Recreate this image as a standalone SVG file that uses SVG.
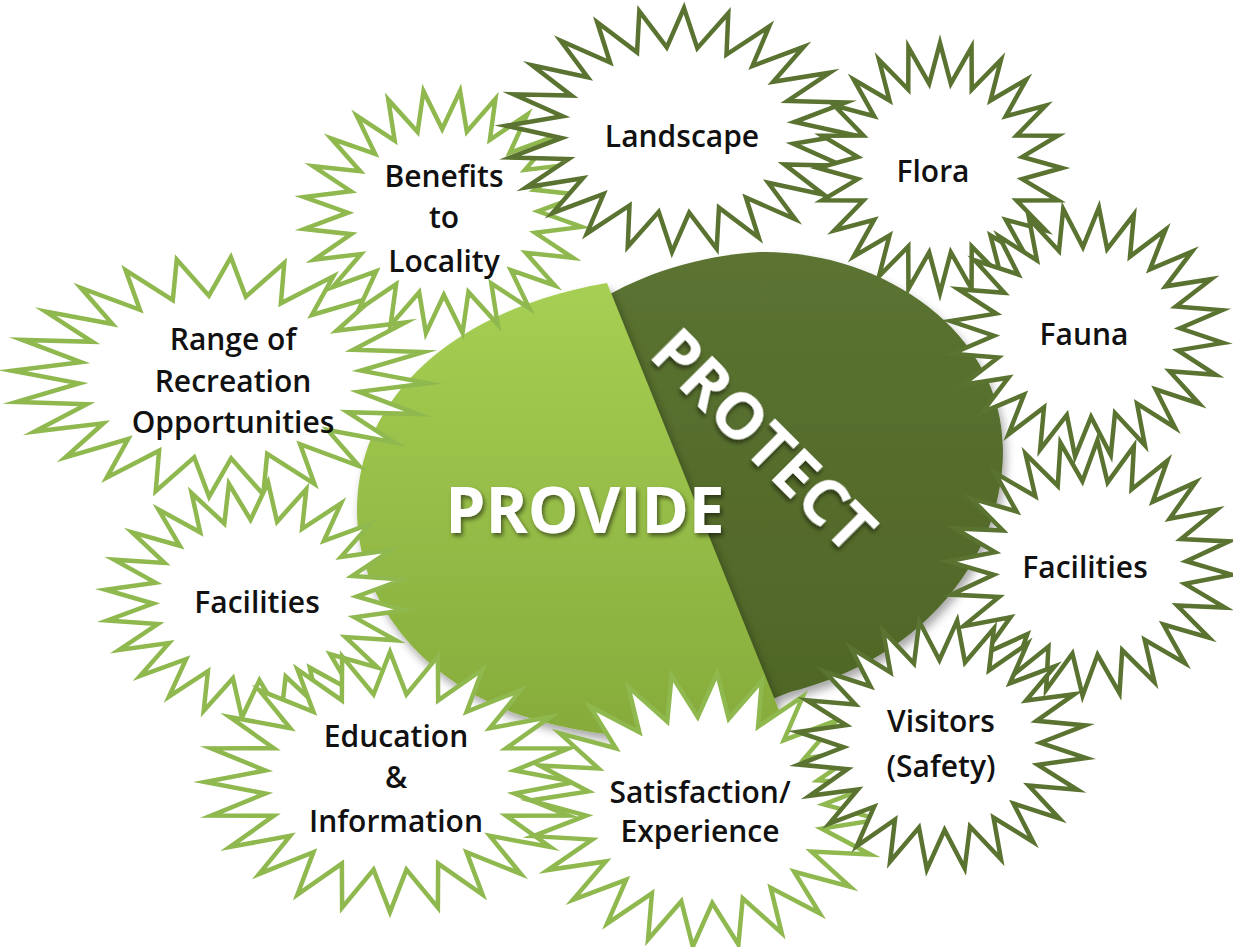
<svg xmlns="http://www.w3.org/2000/svg" xmlns:xlink="http://www.w3.org/1999/xlink" width="1233" height="947" viewBox="0 0 1233 947">
<style>
.lt{fill:#fff;stroke:#8fb84f;stroke-width:4.5;stroke-miterlimit:12}
.dk{fill:#fff;stroke:#5a7331;stroke-width:4.5;stroke-miterlimit:12}
.lbl{font-family:"Open Sans","Liberation Sans",sans-serif;font-size:30px;font-weight:600;fill:#111;text-anchor:middle}
.big{font-family:"Open Sans","Liberation Sans",sans-serif;font-size:64px;font-weight:700;fill:#fff;text-anchor:middle}
</style>
<defs>
<polygon id="star" vector-effect="non-scaling-stroke" points="100,0 67.42,8.88 96.59,25.88 62.82,26.02 86.6,50 53.95,41.4 70.71,70.71 41.4,53.95 50,86.6 26.02,62.82 25.88,96.59 8.88,67.42 0,100 -8.88,67.42 -25.88,96.59 -26.02,62.82 -50,86.6 -41.4,53.95 -70.71,70.71 -53.95,41.4 -86.6,50 -62.82,26.02 -96.59,25.88 -67.42,8.88 -100,0 -67.42,-8.88 -96.59,-25.88 -62.82,-26.02 -86.6,-50 -53.95,-41.4 -70.71,-70.71 -41.4,-53.95 -50,-86.6 -26.02,-62.82 -25.88,-96.59 -8.88,-67.42 0,-100 8.88,-67.42 25.88,-96.59 26.02,-62.82 50,-86.6 41.4,-53.95 70.71,-70.71 53.95,-41.4 86.6,-50 62.82,-26.02 96.59,-25.88 67.42,-8.88"/>
<linearGradient id="gLight" x1="0" y1="0" x2="0" y2="1">
<stop offset="0" stop-color="#a6cf53"/>
<stop offset="1" stop-color="#86ab3b"/>
</linearGradient>
<linearGradient id="gDark" x1="0" y1="0" x2="0" y2="1">
<stop offset="0" stop-color="#5b7331"/>
<stop offset="1" stop-color="#4f6627"/>
</linearGradient>
<filter id="shadow" x="-10%" y="-10%" width="120%" height="125%">
<feDropShadow dx="3" dy="6" stdDeviation="5" flood-color="#000" flood-opacity="0.35"/>
</filter>
<filter id="tshadow" x="-10%" y="-20%" width="120%" height="150%">
<feDropShadow dx="2" dy="3" stdDeviation="2" flood-color="#000" flood-opacity="0.5"/>
</filter>
</defs>

<g id="center">
<path id="protect-piece" filter="url(#shadow)" fill="url(#gDark)" d="M 600 300 C 640 275 700 255 760 252 C 880 250 1003 330 1003 450 C 1003 560 920 660 790 692 L 770 700 Z"/>
<path id="provide-piece" filter="url(#shadow)" fill="url(#gLight)" d="M 607 283 L 785 725 C 700 745 600 742 520 715 C 420 680 357 600 357 510 C 357 400 450 310 607 283 Z"/>
<text class="big" x="585" y="533" filter="url(#tshadow)">PROVIDE</text>
<text class="big" x="764" y="463" transform="rotate(45 764 440)" filter="url(#tshadow)">PROTECT</text>
</g>

<g id="range">
<use xlink:href="#star" class="lt" transform="translate(220 377) scale(2.08 1.2) rotate(3)"/>
<text class="lbl"><tspan x="233" y="350">Range of</tspan><tspan x="233" y="392">Recreation</tspan><tspan x="233" y="433">Opportunities</tspan></text>
</g>
<g id="facilities-left">
<use xlink:href="#star" class="lt" transform="translate(255 600) scale(1.5 1.18) rotate(5)"/>
<text class="lbl" x="257" y="613">Facilities</text>
</g>
<g id="education">
<use xlink:href="#star" class="lt" transform="translate(390 782) scale(1.85 1.3)"/>
<text class="lbl"><tspan x="396" y="747">Education</tspan><tspan x="396" y="788">&amp;</tspan><tspan x="396" y="832">Information</tspan></text>
</g>
<g id="satisfaction">
<use xlink:href="#star" class="lt" transform="translate(705 810) scale(1.75 1.37) rotate(4)"/>
<text class="lbl"><tspan x="700" y="803">Satisfaction/</tspan><tspan x="700" y="842">Experience</tspan></text>
</g>
<g id="benefits">
<use xlink:href="#star" class="lt" transform="translate(443 212) scale(1.4 1.22) rotate(7)"/>
<text class="lbl"><tspan x="444" y="187">Benefits</tspan><tspan x="444" y="228">to</tspan><tspan x="444" y="272">Locality</tspan></text>
</g>
<g id="landscape">
<use xlink:href="#star" class="dk" transform="translate(678 130) scale(1.72 1.22) rotate(2)"/>
<text class="lbl" x="682" y="147">Landscape</text>
</g>
<g id="flora">
<use xlink:href="#star" class="dk" transform="translate(940 168) scale(1.22 1.25)"/>
<text class="lbl" x="933" y="182">Flora</text>
</g>
<g id="fauna">
<use xlink:href="#star" class="dk" transform="translate(1087 332) scale(1.37 1.25) rotate(5)"/>
<text class="lbl" x="1084" y="345">Fauna</text>
</g>
<g id="facilities-right">
<use xlink:href="#star" class="dk" transform="translate(1090 568) scale(1.42 1.28) rotate(3)"/>
<text class="lbl" x="1085" y="578">Facilities</text>
</g>
<g id="visitors">
<use xlink:href="#star" class="dk" transform="translate(942 745) scale(1.45 1.25) rotate(6)"/>
<text class="lbl"><tspan x="941" y="732">Visitors</tspan><tspan x="941" y="777">(Safety)</tspan></text>
</g>
<g id="connectors"/>
</svg>
